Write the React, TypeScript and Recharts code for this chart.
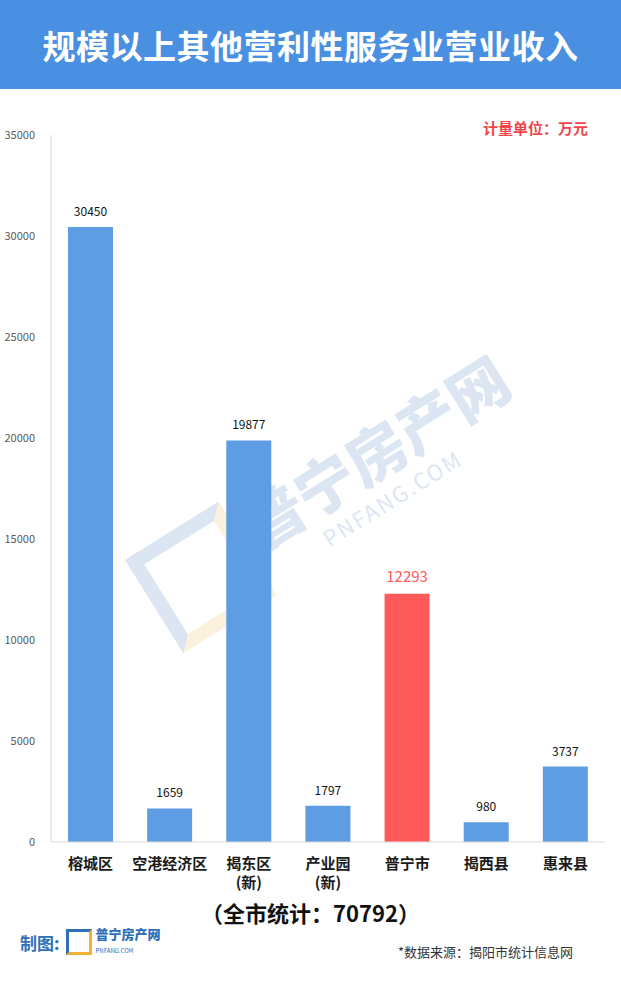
import { BarChart, Bar, XAxis, YAxis, Cell, LabelList } from 'recharts';

const districts = ['榕城区', '空港经济区', '揭东区\n(新)', '产业园\n(新)', '普宁市', '揭西县', '惠来县'];
const revenue = [30450, 1659, 19877, 1797, 12293, 980, 3737];
const yTicks = [0, 5000, 10000, 15000, 20000, 25000, 30000, 35000];
const highlight = '普宁市';

const BLUE = '#5E9CE4';
const RED = '#FF5A5A';
const FONT = '"Noto Sans CJK SC", "Noto Sans", sans-serif';

const chartData = districts.map((name, i) => ({ name, value: revenue[i] }));

const CategoryTick = ({ x, y, payload }: any) => {
  const lines = String(payload.value).split('\n');
  return (
    <text x={x} y={y} textAnchor="middle" fontFamily={FONT} fontSize={15} fontWeight={700} fill="#1a1a1a">
      {lines.map((l, i) => (
        <tspan key={i} x={x} dy={i === 0 ? 19 : 19}>{l}</tspan>
      ))}
    </text>
  );
};

const ValueLabel = ({ x, y, width, value, index }: any) => {
  const hot = chartData[index].name === highlight;
  return (
    <text
      x={x + width / 2}
      y={y - (hot ? 12 : 11)}
      textAnchor="middle"
      fontFamily={FONT}
      fontSize={hot ? 15 : 12}
      fill={hot ? RED : '#111'}
    >
      {value}
    </text>
  );
};

const App = () => {
  return (
    <div style={{ position: 'absolute', left: 0, top: 0, width: 621, height: 983, background: '#fff', overflow: 'hidden', fontFamily: FONT }}>
      <div style={{ height: 89, background: '#4A90E2', color: '#fff', fontSize: 33, fontWeight: 700, display: 'flex', alignItems: 'center', justifyContent: 'center', letterSpacing: 0.5 }}>
        规模以上其他营利性服务业营业收入
      </div>

      {/* faint site watermark behind the bars */}
      <div style={{ position: 'absolute', left: 125, top: 560, transform: 'rotate(-32deg)', transformOrigin: 'left top', opacity: 0.17, pointerEvents: 'none', display: 'flex', alignItems: 'center' }}>
        <div style={{ width: 110, height: 110, border: '14px solid #2E6FB7', borderRightColor: '#F2B134', borderBottomColor: '#F2B134', boxSizing: 'border-box', marginRight: 10 }} />
        <div>
          <div style={{ fontSize: 60, fontWeight: 900, color: '#2E6FB7', whiteSpace: 'nowrap', lineHeight: 1.1 }}>普宁房产网</div>
          <div style={{ fontSize: 22, color: '#2E6FB7', marginLeft: 60, letterSpacing: 2 }}>PNFANG.COM</div>
        </div>
      </div>

      <div style={{ position: 'absolute', right: 33, top: 117, color: '#F0464B', fontSize: 15, fontWeight: 700 }}>计量单位：万元</div>

      <div style={{ position: 'absolute', left: 0, top: 0 }}>
        <BarChart width={621} height={983} data={chartData} margin={{ top: 135, right: 16, bottom: 111, left: 0 }}>
          <YAxis
            width={51}
            domain={[0, 35000]}
            ticks={yTicks}
            interval={0}
            tickLine={false}
            axisLine={{ stroke: '#D9D9D9' }}
            tickMargin={10}
            tick={{ fontSize: 11, fill: '#595959', fontFamily: FONT }}
          />
          <XAxis
            dataKey="name"
            height={30}
            interval={0}
            tickLine={false}
            axisLine={{ stroke: '#D9D9D9' }}
            tick={<CategoryTick />}
          />
          <Bar dataKey="value" barSize={45} isAnimationActive={false}>
            {chartData.map((d) => (
              <Cell key={d.name} fill={d.name === highlight ? RED : BLUE} />
            ))}
            <LabelList dataKey="value" content={<ValueLabel />} />
          </Bar>
        </BarChart>
      </div>

      <div style={{ position: 'absolute', left: 0, width: 621, top: 896, textAlign: 'center', fontSize: 22, fontWeight: 700, color: '#111' }}>
        （全市统计：70792）
      </div>

      <div style={{ position: 'absolute', left: 20, top: 928, display: 'flex', alignItems: 'center' }}>
        <span style={{ color: '#2E6FB7', fontSize: 17, fontWeight: 700, whiteSpace: 'nowrap' }}>制图:</span>
        <div style={{ width: 26, height: 26, border: '3px solid #2E6FB7', borderRightColor: '#F2B134', borderBottomColor: '#F2B134', boxSizing: 'border-box', marginLeft: 6, marginRight: 4 }} />
        <div style={{ position: 'relative', width: 70, height: 28 }}>
          <span style={{ position: 'absolute', left: 0, top: -2, color: '#2E6FB7', fontSize: 13, fontWeight: 900, lineHeight: '16px', whiteSpace: 'nowrap' }}>普宁房产网</span>
          <span style={{ position: 'absolute', left: 0, top: 19, color: '#2E6FB7', fontSize: 6, lineHeight: '7px', whiteSpace: 'nowrap' }}>PNFANG.COM</span>
        </div>
      </div>

      <div style={{ position: 'absolute', left: 398, top: 942, fontSize: 13, color: '#333' }}>*数据来源：揭阳市统计信息网</div>
    </div>
  );
};

export default App;
